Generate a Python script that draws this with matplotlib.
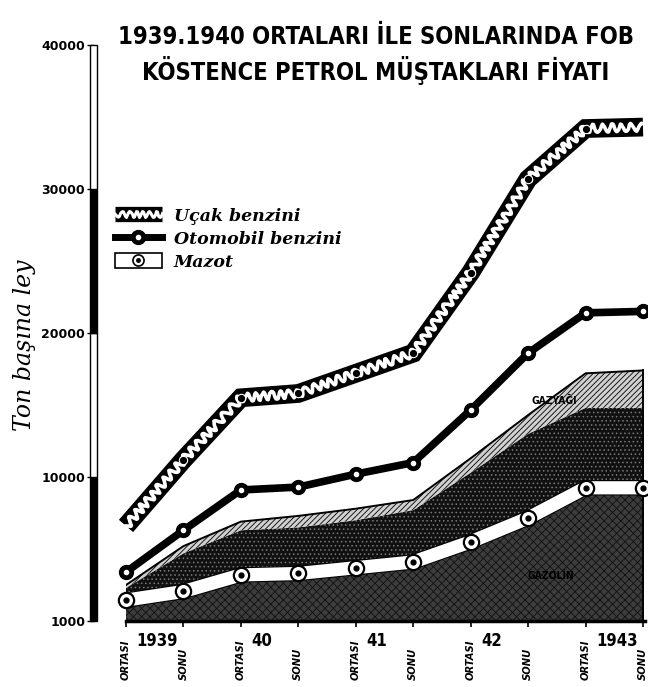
import matplotlib
matplotlib.use("Agg")
import matplotlib.pyplot as plt
import matplotlib.transforms as mtransforms
import matplotlib.patheffects as pe
from matplotlib.lines import Line2D
from matplotlib.patches import Rectangle

# ---------------- data ----------------
periods = ["ORTASI", "SONU", "ORTASI", "SONU", "ORTASI", "SONU",
           "ORTASI", "SONU", "ORTASI", "SONU"]
years = ["1939", "40", "41", "42", "1943"]
ucak = [6600, 11200, 15500, 15800, 17200, 18600, 24200, 30700, 34200, 34300]
otomobil = [3400, 6300, 9100, 9300, 10200, 11000, 14650, 18600, 21400, 21500]
mazot = [1450, 2050, 3200, 3300, 3700, 4100, 5500, 7150, 9250, 9250]
middle_top = [2300, 4700, 6300, 6500, 7000, 7700, 10300, 13000, 14800, 14800]
area_top = [2500, 5200, 6900, 7300, 7800, 8400, 11300, 14300, 17200, 17400]
ytick_vals = [0, 10000, 20000, 30000, 40000]
ytick_labels = ["1000", "10000", "20000", "30000", "40000"]
bar_colors = ["black", "white", "black", "white"]
title_lines = ["1939.1940 ORTALARI İLE SONLARINDA FOB",
               "KÖSTENCE PETROL MÜŞTAKLARI FİYATI"]
legend_labels = ["Uçak benzini", "Otomobil benzini", "Mazot"]
area_labels = ["GAZOLİN", "GAZYAĞI"]

x = list(range(len(periods)))

plt.rcParams["hatch.linewidth"] = 0.6
fig = plt.figure(figsize=(6.48, 6.87), dpi=100)
ax = fig.add_axes([126 / 648, 66 / 687, 519 / 648, 576 / 687])
ax.set_xlim(0, 9.035)
ax.set_ylim(0, 40000)

cond = ["DejaVu Sans"]
script = ["DejaVu Serif"]

# ---------------- stacked areas ----------------
ax.fill_between(x, 0, mazot, facecolor="#3c3c3c", hatch="xxxx",
                edgecolor="#101010", lw=0, zorder=1)
ax.fill_between(x, mazot, middle_top, facecolor="#111111", hatch="....",
                edgecolor="#7a7a7a", lw=0, zorder=1)
ax.fill_between(x, middle_top, area_top, facecolor="#d0d0d0", hatch="//////",
                edgecolor="black", lw=0, zorder=1)
ax.plot(x, area_top, color="black", lw=1.4, zorder=2)
ax.plot([x[-1], x[-1]], [0, area_top[-1]], color="black", lw=1.4, zorder=2)

ax.text(7.4, 3100, area_labels[0], fontsize=7.5, fontweight="bold",
        color="black", ha="center", va="center", family=cond,
        fontstretch="condensed", zorder=3)
ax.text(7.45, 15300, area_labels[1], fontsize=7.5, fontweight="bold",
        color="black", ha="center", va="center", family=cond,
        fontstretch="condensed", zorder=3)

# ---------------- Mazot ----------------
ax.plot(x, mazot, color="white", lw=9.5, solid_capstyle="butt", zorder=4,
        path_effects=[pe.Stroke(linewidth=11, foreground="black"), pe.Normal()],
        clip_on=False)
ax.plot(x, mazot, "o", ms=11, mfc="white", mec="black", mew=1.6, zorder=5,
        clip_on=False)
ax.plot(x, mazot, "o", ms=3.5, color="black", zorder=6, clip_on=False)

# ---------------- Otomobil benzini ----------------
ax.plot(x, otomobil, color="black", lw=5.5, solid_capstyle="butt", zorder=4,
        clip_on=False)
ax.plot(x, otomobil, "o", ms=10, color="black", zorder=5, clip_on=False)
ax.plot(x, otomobil, "o", ms=3, color="white", zorder=6, clip_on=False)

# ---------------- Uçak benzini ----------------
ax.plot(x, ucak, color="black", lw=13.5, solid_capstyle="butt",
        solid_joinstyle="miter", zorder=4, clip_on=False)
wave = ax.plot(x, ucak, color="white", lw=2.6, zorder=5, clip_on=False)[0]
wave.set_sketch_params(scale=4, length=10, randomness=2)
ax.plot(x[1:-1], ucak[1:-1], "o", ms=6, mfc="black", mec="white", mew=0.8,
        zorder=6)

# ---------------- axes ----------------
for s in ["top", "right"]:
    ax.spines[s].set_visible(False)
ax.spines["bottom"].set_linewidth(2.5)
ax.spines["left"].set_position(("axes", -0.0626))
ax.spines["left"].set_color("none")

ax.set_yticks(ytick_vals)
ax.set_yticklabels(ytick_labels, fontsize=9, fontweight="bold")
ax.tick_params(axis="y", length=5, width=1, pad=1, direction="out")

ax.set_xticks(x)
ax.set_xticklabels([""] * len(x))
ax.tick_params(axis="x", length=4, width=1.2, direction="out")

# y-axis bar
bt = mtransforms.blended_transform_factory(ax.transAxes, ax.transData)
for i, c in enumerate(bar_colors):
    ax.add_patch(Rectangle((-0.0694, ytick_vals[i]), 0.0135,
                           ytick_vals[i + 1] - ytick_vals[i],
                           facecolor=c, edgecolor="black", lw=1,
                           transform=bt, clip_on=False, zorder=3))

# x labels
xt = mtransforms.blended_transform_factory(ax.transData, ax.transAxes)
for xi, lab in zip(x, periods):
    ax.text(xi, -0.103, lab, rotation=90, ha="center", va="bottom",
            fontsize=8, fontweight="bold", style="italic", family=cond,
            fontstretch="condensed", transform=xt, clip_on=False)
for k, yl in enumerate(years):
    ax.text(2 * k + 0.18, -0.035, yl, ha="left", va="center",
            fontsize=12, fontweight="bold", family=cond,
            fontstretch="condensed", transform=xt, clip_on=False)

# title
for line, yy in zip(title_lines, [0.946, 0.898]):
    fig.text(0.580, yy, line, ha="center", va="center",
             fontsize=17, fontweight="bold", family=cond,
             fontstretch="condensed")

# y label
fig.text(25 / 648, 1 - 345 / 687, "Ton başına ley", rotation=90,
         ha="center", va="center", fontsize=17, style="italic",
         family=script)

# legend
h_ucak = (Line2D([], [], color="black", lw=11, solid_capstyle="butt"),
          Line2D([], [], color="white", lw=2.2))
h_ucak[1].set_sketch_params(scale=3, length=8, randomness=2)
h_oto = (Line2D([], [], color="black", lw=5, marker="o", ms=10),
         Line2D([], [], ls="none", marker="o", ms=3, color="white"))
h_maz = (Rectangle((0, 0), 1, 1, facecolor="white", edgecolor="black", lw=1.2),
         Line2D([], [], ls="none", marker="o", ms=8, mfc="white", mec="black",
                mew=1.2),
         Line2D([], [], ls="none", marker="o", ms=2.5, color="black"))
leg = ax.legend([h_ucak, h_oto, h_maz], legend_labels, loc="upper left",
                bbox_to_anchor=(108 / 648, 1 - 200 / 687),
                bbox_transform=fig.transFigure, frameon=False,
                borderaxespad=0, handlelength=2.7, handleheight=1.0,
                handletextpad=0.7, labelspacing=0.3,
                prop={"family": script, "style": "italic", "weight": "bold",
                      "size": 12.5})

fig.savefig("out.png", dpi=100, facecolor="white")
